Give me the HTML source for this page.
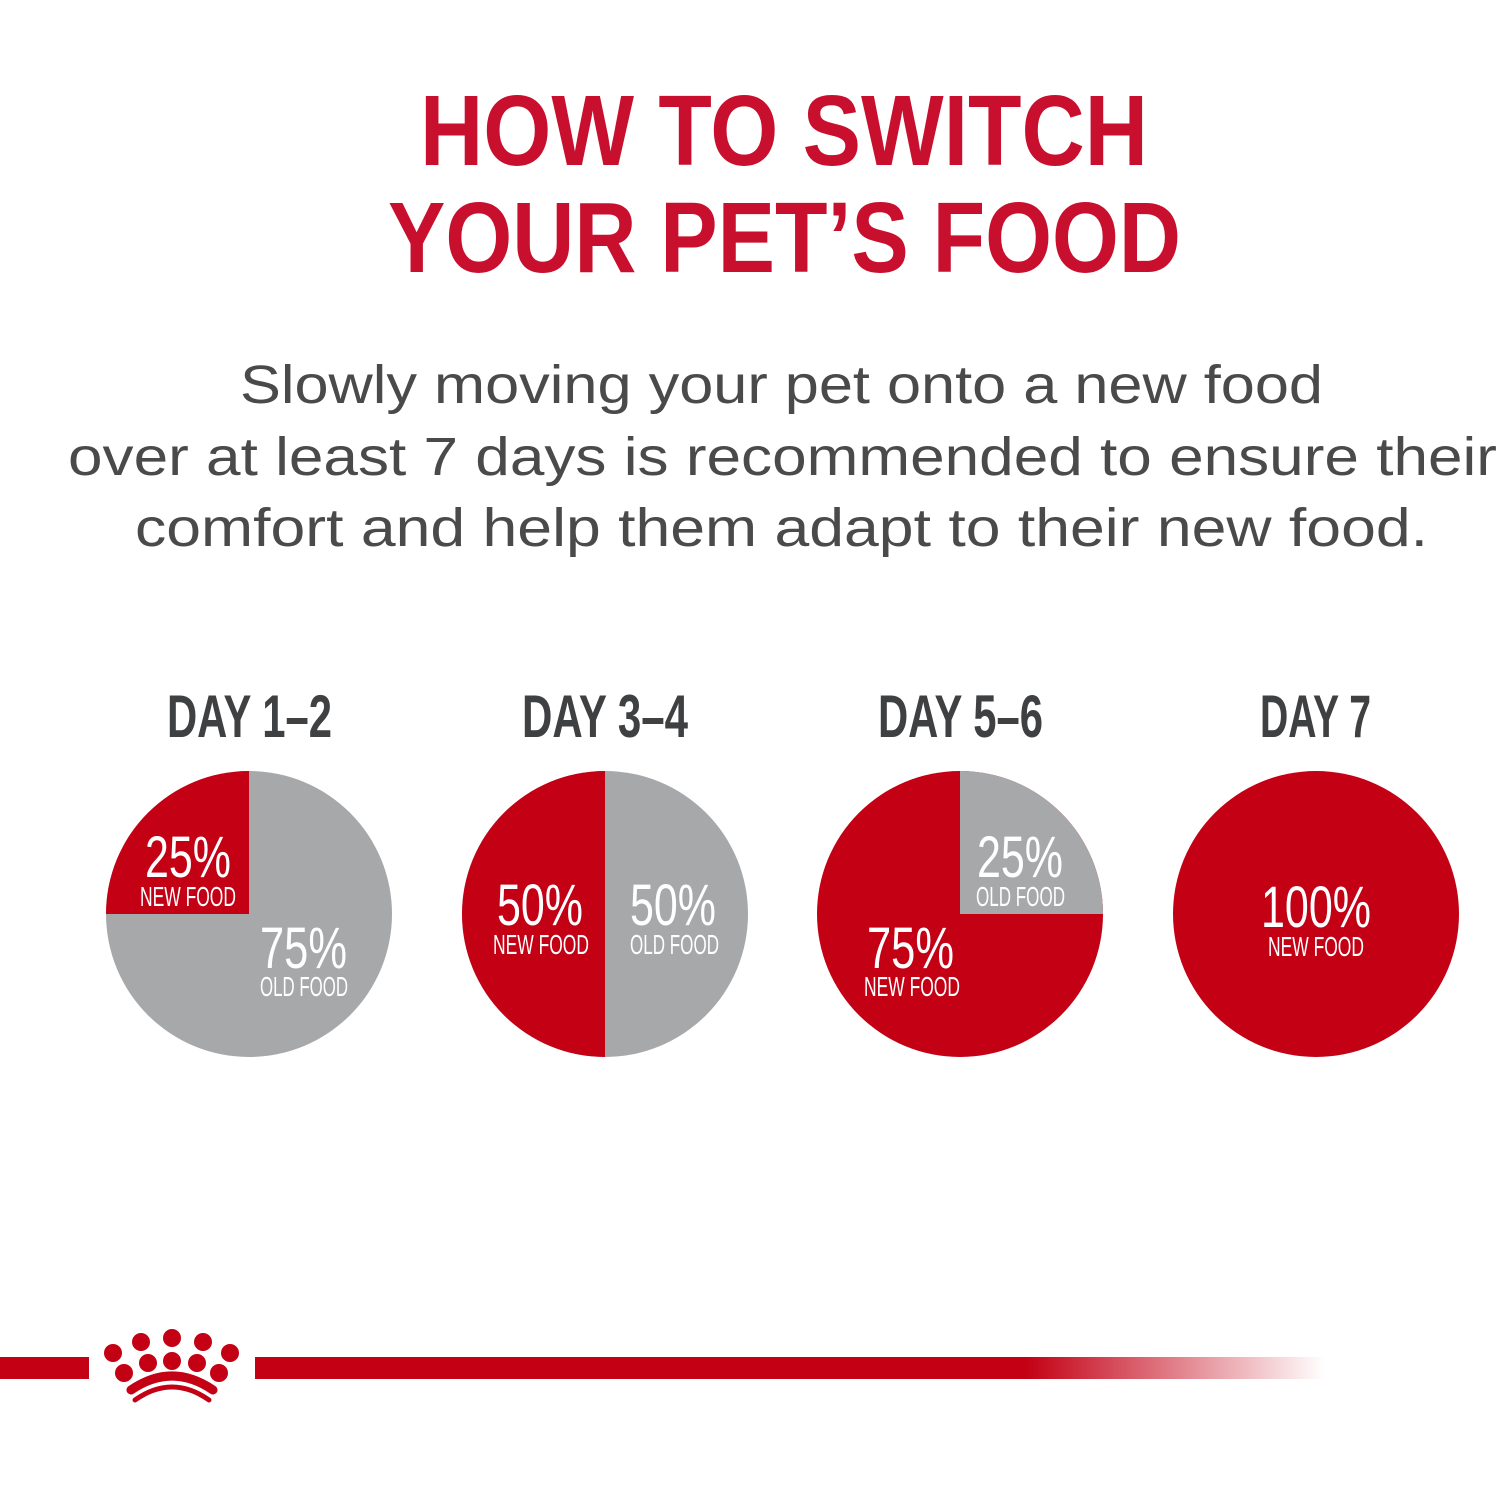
<!DOCTYPE html>
<html><head><meta charset="utf-8"><style>
html,body{margin:0;padding:0;background:#fff;width:1500px;height:1500px;overflow:hidden}
</style></head><body>
<svg width="1500" height="1500" viewBox="0 0 1500 1500" xmlns="http://www.w3.org/2000/svg">
<defs>
<linearGradient id="g" x1="0" x2="1" y1="0" y2="0">
<stop offset="0" stop-color="#c30014"/><stop offset="0.72" stop-color="#c30014"/><stop offset="1" stop-color="#c30014" stop-opacity="0"/>
</linearGradient>
<clipPath id="c1"><circle cx="249" cy="914" r="143"/></clipPath>
<clipPath id="c2"><circle cx="605" cy="914" r="143"/></clipPath>
<clipPath id="c3"><circle cx="960" cy="914" r="143"/></clipPath>
</defs>
<g font-family="'Liberation Sans','DejaVu Sans',sans-serif" font-weight="bold" fill="#c8102e" font-size="100">
<text x="420" y="165" textLength="728" lengthAdjust="spacingAndGlyphs">HOW TO SWITCH</text>
<text x="388" y="272" textLength="793" lengthAdjust="spacingAndGlyphs">YOUR PET’S FOOD</text>
</g>
<g font-family="'Liberation Sans','DejaVu Sans',sans-serif" fill="#4a4a4a" font-size="54">
<text x="240" y="403" textLength="1083" lengthAdjust="spacingAndGlyphs">Slowly moving your pet onto a new food</text>
<text x="68" y="475" textLength="1429" lengthAdjust="spacingAndGlyphs">over at least 7 days is recommended to ensure their</text>
<text x="135" y="546" textLength="1293" lengthAdjust="spacingAndGlyphs">comfort and help them adapt to their new food.</text>
</g>
<g font-family="'Liberation Sans Narrow','Liberation Sans',sans-serif" font-weight="bold" fill="#3f4042" font-size="60">
<text x="167" y="737" textLength="165" lengthAdjust="spacingAndGlyphs">DAY 1–2</text>
<text x="522" y="737" textLength="166" lengthAdjust="spacingAndGlyphs">DAY 3–4</text>
<text x="878" y="737" textLength="165" lengthAdjust="spacingAndGlyphs">DAY 5–6</text>
<text x="1260" y="737" textLength="111" lengthAdjust="spacingAndGlyphs">DAY 7</text>
</g>
<circle cx="249" cy="914" r="143" fill="#a7a8aa"/>
<rect x="100" y="765" width="149" height="149" fill="#c30014" clip-path="url(#c1)"/>
<circle cx="605" cy="914" r="143" fill="#a7a8aa"/>
<rect x="455" y="765" width="150" height="300" fill="#c30014" clip-path="url(#c2)"/>
<circle cx="960" cy="914" r="143" fill="#c30014"/>
<rect x="960" y="765" width="150" height="149" fill="#a7a8aa" clip-path="url(#c3)"/>
<circle cx="1316" cy="914" r="143" fill="#c30014"/>
<g font-family="'Liberation Sans Narrow','Liberation Sans',sans-serif" fill="#fff">
<g font-size="58">
<text x="145" y="877" textLength="86" lengthAdjust="spacingAndGlyphs">25%</text>
<text x="260" y="968" textLength="87" lengthAdjust="spacingAndGlyphs">75%</text>
<text x="497" y="925" textLength="86" lengthAdjust="spacingAndGlyphs">50%</text>
<text x="630" y="925" textLength="86" lengthAdjust="spacingAndGlyphs">50%</text>
<text x="977" y="877" textLength="86" lengthAdjust="spacingAndGlyphs">25%</text>
<text x="867" y="968" textLength="87" lengthAdjust="spacingAndGlyphs">75%</text>
<text x="1261" y="927" textLength="110" lengthAdjust="spacingAndGlyphs">100%</text>
</g>
<g font-size="28">
<text x="140" y="906" textLength="96" lengthAdjust="spacingAndGlyphs">NEW FOOD</text>
<text x="260" y="996" textLength="88" lengthAdjust="spacingAndGlyphs">OLD FOOD</text>
<text x="493" y="954" textLength="96" lengthAdjust="spacingAndGlyphs">NEW FOOD</text>
<text x="630" y="954" textLength="89" lengthAdjust="spacingAndGlyphs">OLD FOOD</text>
<text x="976" y="906" textLength="89" lengthAdjust="spacingAndGlyphs">OLD FOOD</text>
<text x="864" y="996" textLength="96" lengthAdjust="spacingAndGlyphs">NEW FOOD</text>
<text x="1268" y="956" textLength="96" lengthAdjust="spacingAndGlyphs">NEW FOOD</text>
</g>
</g>
<rect x="0" y="1357" width="89" height="22" fill="#c30014"/>
<rect x="255" y="1357" width="1070" height="22" fill="url(#g)"/>
<g fill="#c30014">
<circle cx="113" cy="1353" r="9"/><circle cx="141" cy="1342" r="9"/><circle cx="172" cy="1338" r="9"/><circle cx="203" cy="1342" r="9"/><circle cx="230" cy="1353" r="9"/>
<circle cx="124" cy="1373" r="9"/><circle cx="148" cy="1363" r="9"/><circle cx="172" cy="1361" r="9"/><circle cx="197" cy="1363" r="9"/><circle cx="219" cy="1373" r="9"/>
</g>
<g fill="none" stroke="#c30014" stroke-linecap="round">
<path d="M131 1390 Q172 1362 213 1390" stroke-width="9"/>
<path d="M135 1400 Q172 1374 209 1400" stroke-width="5"/>
</g>
</svg>
</body></html>
